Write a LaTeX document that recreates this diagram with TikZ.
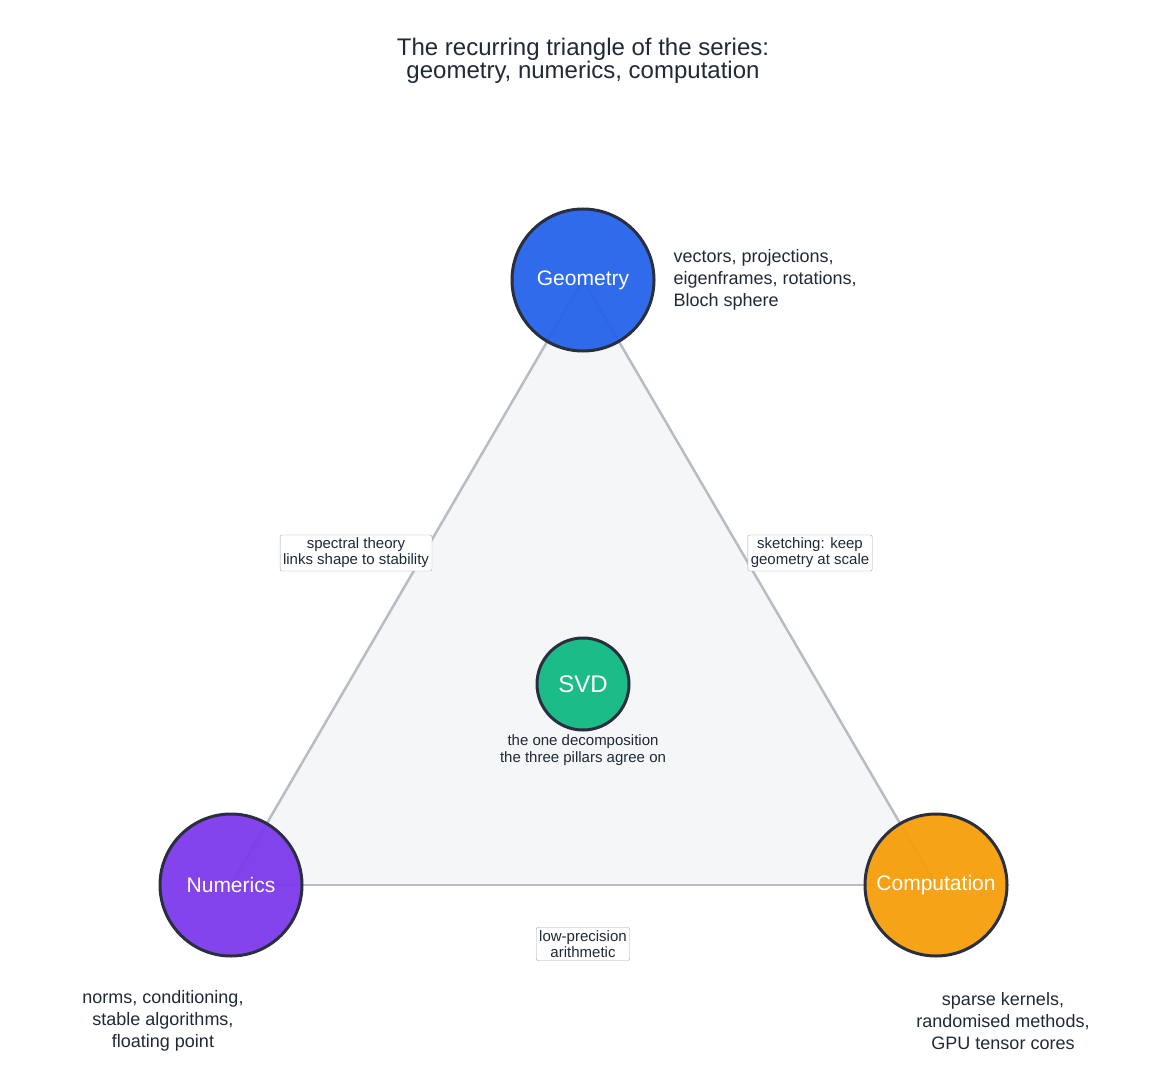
\documentclass[tikz,border=0pt]{standalone}
\usepackage{fontspec}
\setmainfont{Liberation Sans}
\begin{document}
\begin{tikzpicture}[x=1pt,y=-1pt,
  pillar/.style={circle,draw=edge,line width=3pt,minimum size=142pt,inner sep=0pt,fill opacity=0.95,text opacity=1,text=white,font=\fontsize{21}{24}\selectfont},
  lbl/.style={draw=boxb,fill=white,rounded corners=2pt,align=center,inner sep=3pt,font=\fontsize{15}{16}\selectfont,text=txt},
  note/.style={font=\fontsize{18}{22}\selectfont,text=txt},
  side/.style={draw=tri,line width=2.5pt}]
\definecolor{edge}{HTML}{2A2F3F}
\definecolor{txt}{HTML}{1F2937}
\definecolor{boxb}{HTML}{9AA8C0}
\definecolor{tri}{HTML}{B8BCC4}
\definecolor{trif}{HTML}{F5F6F8}
\definecolor{cG}{HTML}{2563EB}
\definecolor{cN}{HTML}{7C3AED}
\definecolor{cC}{HTML}{F59E0B}
\definecolor{cS}{HTML}{10B981}
\useasboundingbox (0,0) rectangle (1167,1091);
\coordinate (g) at (583,280);
\coordinate (n) at (231,885);
\coordinate (c) at (936,885);
\fill[trif] (g)--(n)--(c)--cycle;
\draw[side] (g)--(n);
\draw[side] (n)--(c);
\draw[side] (c)--(g);
\node[pillar,fill=cG] (G) at (g) {Geometry};
\node[pillar,fill=cN] (N) at (n) {Numerics};
\node[pillar,fill=cC] (C) at (c) {Computation};
\node[pillar,fill=cS,minimum size=92pt,font=\fontsize{24}{26}\selectfont] (S) at (583,684) {SVD};
\node[note,align=center] (t) at (583,61) {\fontsize{24}{28}\selectfont The recurring triangle of the series:\\ \fontsize{24}{28}\selectfont geometry, numerics, computation};
\node[lbl] (l1) at (356,553) {spectral theory\\links shape to stability};
\node[lbl] (l2) at (810,553) {sketching: keep\\geometry at scale};
\node[lbl] (l3) at (583,944) {low-precision\\arithmetic};
\node[font=\fontsize{15}{17}\selectfont,text=txt,align=center] (sc) at (583,750) {the one decomposition\\the three pillars agree on};
\node[note,align=left,anchor=west] (gn) at (670,280) {vectors, projections,\\eigenframes, rotations,\\Bloch sphere};
\node[note,align=center] (nn) at (163,1021) {norms, conditioning,\\stable algorithms,\\floating point};
\node[note,align=center] (cn) at (1003,1021) {sparse kernels,\\randomised methods,\\GPU tensor cores};
\end{tikzpicture}
\end{document}
